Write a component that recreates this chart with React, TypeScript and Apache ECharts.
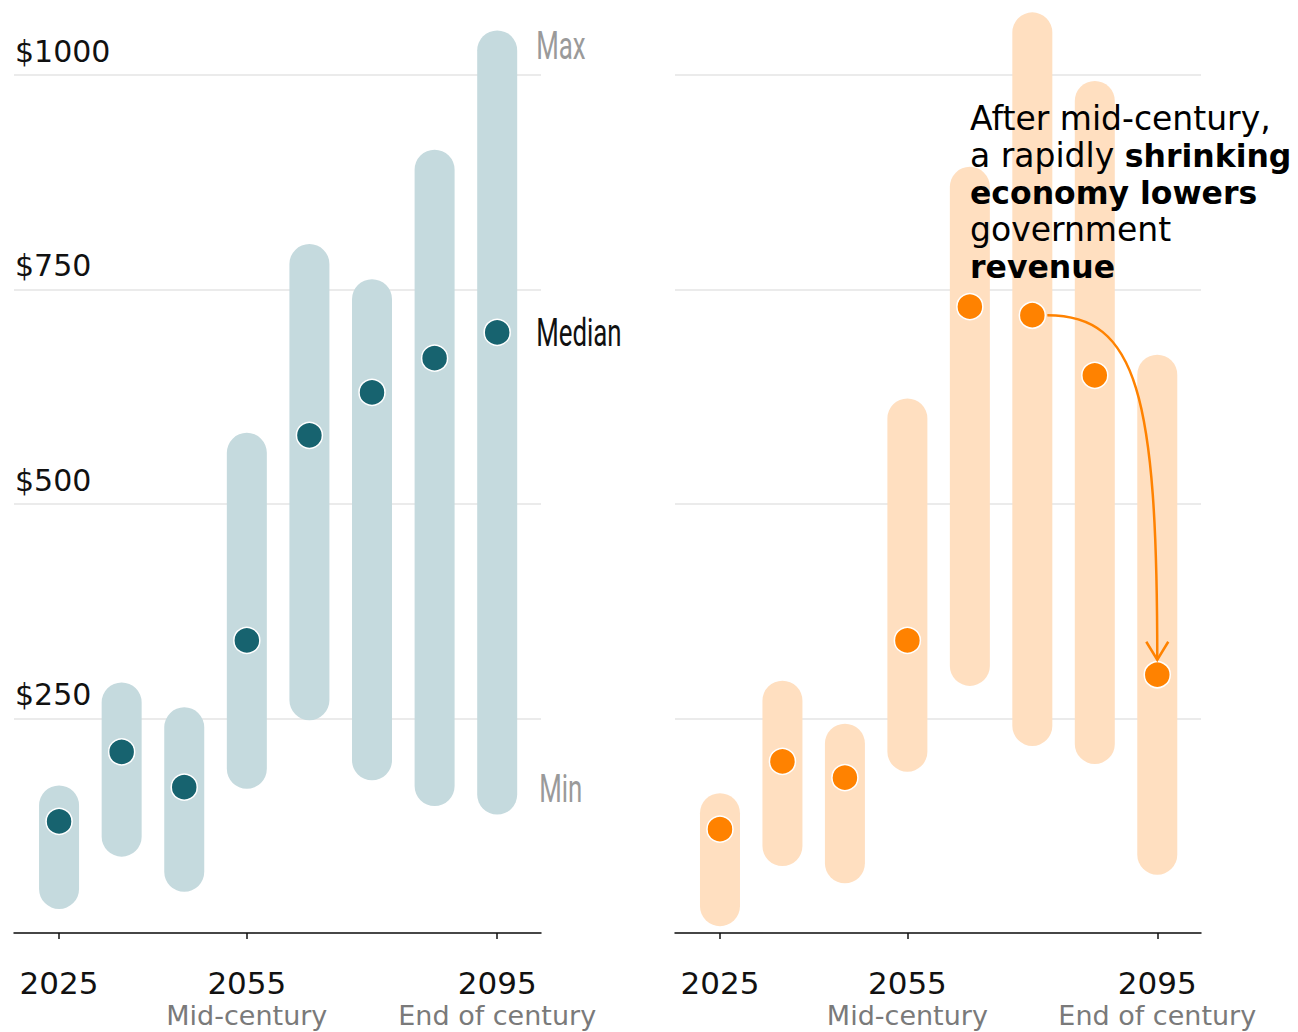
import React, { useEffect, useRef } from "react";
import * as echarts from "echarts";

const years = [2025, 2035, 2045, 2055, 2065, 2075, 2085, 2095];
const tickYears = [2025, 2055, 2095];
const tickNotes: Record<number, string> = { 2055: "Mid-century", 2095: "End of century" };
const yTicks = [0, 250, 500, 750, 1000];

const leftMin = [28, 89, 48, 168, 248, 178, 148, 138];
const leftMax = [172, 292, 263, 583, 803, 762, 913, 1052];
const leftMedian = [130, 211, 170, 341, 580, 630, 670, 700];

const rightMin = [8, 78, 58, 188, 288, 218, 197, 68];
const rightMax = [163, 294, 244, 623, 893, 1073, 993, 674];
const rightMedian = [121, 200, 181, 341, 730, 720, 650, 301];

const FONT = "'DejaVu Sans', sans-serif";
const COND = "Roboto, sans-serif";

const TEAL_BAR = "#c5dade";
const TEAL_DOT = "#17636f";
const ORANGE_BAR = "#ffdfc0";
const ORANGE_DOT = "#ff8200";

function rangeSeries(idx: number, mins: number[], maxs: number[], color: string) {
  return {
    type: "custom",
    xAxisIndex: idx,
    yAxisIndex: idx,
    clip: false,
    data: years.map((y, i) => [y, mins[i], maxs[i]]),
    encode: { x: 0, y: [1, 2] },
    renderItem: (params: any, api: any) => {
      const x = api.value(0);
      const top = api.coord([x, api.value(2)]);
      const bot = api.coord([x, api.value(1)]);
      const w = 40;
      return {
        type: "rect",
        shape: { x: top[0] - w / 2, y: top[1], width: w, height: bot[1] - top[1], r: w / 2 },
        style: { fill: color },
      };
    },
    z: 2,
  };
}

function dotSeries(idx: number, med: number[], color: string) {
  return {
    type: "scatter",
    xAxisIndex: idx,
    yAxisIndex: idx,
    data: years.map((y, i) => [y, med[i]]),
    symbol: "circle",
    symbolSize: 26,
    itemStyle: { color, borderColor: "#ffffff", borderWidth: 1.5, opacity: 1 },
    clip: false,
    z: 3,
  };
}

function xAxis(idx: number) {
  return {
    type: "value",
    gridIndex: idx,
    min: 2017.8,
    max: 2102,
    splitLine: { show: false },
    axisLine: { show: true, onZero: false, lineStyle: { color: "#111", width: 1.5 } },
    axisTick: { show: true, customValues: tickYears, length: 6, lineStyle: { color: "#111", width: 1.5 } },
    axisLabel: {
      show: true,
      customValues: tickYears,
      margin: 32,
      verticalAlign: "top",
      formatter: (v: number) => {
        const note = tickNotes[v];
        return note ? `{y|${v}}\n{s|${note}}` : `{y|${v}}`;
      },
      rich: {
        y: { fontSize: 31, color: "#111", fontFamily: FONT, lineHeight: 36 },
        s: { fontSize: 27, color: "#7a7a7a", fontFamily: FONT, lineHeight: 29 },
      },
    },
  };
}

function yAxis(idx: number, labels: boolean) {
  return {
    type: "value",
    gridIndex: idx,
    min: yTicks[0],
    max: yTicks[yTicks.length - 1],
    interval: 250,
    axisLine: { show: false },
    axisTick: { show: false },
    splitLine: { show: true, lineStyle: { color: "#e4e4e4", width: 1.5 } },
    axisLabel: {
      show: labels,
      inside: true,
      margin: 1,
      align: "left",
      verticalAlign: "bottom",
      padding: [0, 0, 9, 0],
      fontSize: 30,
      color: "#111",
      fontFamily: FONT,
      formatter: (v: number) => (v === 0 ? "" : "$" + v),
    },
  };
}

export default function App() {
  const ref = useRef<HTMLDivElement>(null);
  useEffect(() => {
    if (!ref.current) return;
    const chart = echarts.init(ref.current, null, { renderer: "svg" });
    const option: any = {
      animation: false,
      backgroundColor: "#ffffff",
      grid: [
        { left: 14, width: 527, top: 75, bottom: 99 },
        { left: 675, width: 526, top: 75, bottom: 99 },
      ],
      xAxis: [xAxis(0), xAxis(1)],
      yAxis: [yAxis(0, true), yAxis(1, false)],
      series: [
        rangeSeries(0, leftMin, leftMax, TEAL_BAR),
        dotSeries(0, leftMedian, TEAL_DOT),
        rangeSeries(1, rightMin, rightMax, ORANGE_BAR),
        dotSeries(1, rightMedian, ORANGE_DOT),
      ],
    };
    chart.setOption(option);

    const pMaxL = chart.convertToPixel({ gridIndex: 0 }, [2095, leftMax[7]]) as number[];
    const pMedL = chart.convertToPixel({ gridIndex: 0 }, [2095, leftMedian[7]]) as number[];
    const pMinL = chart.convertToPixel({ gridIndex: 0 }, [2095, leftMin[7]]) as number[];
    const from = chart.convertToPixel({ gridIndex: 1 }, [2075, rightMedian[5]]) as number[];
    const to = chart.convertToPixel({ gridIndex: 1 }, [2095, rightMedian[7]]) as number[];

    const sx = from[0] + 15;
    const sy = from[1];
    const ex = to[0];
    const ey = to[1] - 15;

    chart.setOption({
      graphic: [
        {
          type: "text",
          x: pMaxL[0] + 39,
          y: pMaxL[1] + 16,
          scaleX: 0.68,
          z: 10,
          style: { text: "Max", fontSize: 38, fontFamily: COND, fill: "#9a9a9a", textAlign: "left", textVerticalAlign: "middle" },
        },
        {
          type: "text",
          x: pMedL[0] + 39,
          y: pMedL[1] + 1,
          scaleX: 0.68,
          z: 10,
          style: { text: "Median", fontSize: 38, fontFamily: COND, fill: "#111", textAlign: "left", textVerticalAlign: "middle" },
        },
        {
          type: "text",
          x: pMinL[0] + 42,
          y: pMinL[1] - 25,
          scaleX: 0.68,
          z: 10,
          style: { text: "Min", fontSize: 38, fontFamily: COND, fill: "#9a9a9a", textAlign: "left", textVerticalAlign: "middle" },
        },
        {
          type: "text",
          x: 970,
          y: 100,
          z: 10,
          style: {
            text:
              "{r|After mid-century,}\n{r|a rapidly }{b|shrinking}\n{b|economy lowers}\n{r|government}\n{b|revenue}",
            textAlign: "left",
            textVerticalAlign: "top",
            rich: {
              r: { fontSize: 33, fontFamily: FONT, color: "#111", lineHeight: 37 },
              b: { fontSize: 31.5, fontFamily: FONT, fontWeight: "bold", color: "#111", lineHeight: 37 },
            },
          },
        },
        {
          type: "bezierCurve",
          z: 10,
          shape: { x1: sx, y1: sy, x2: ex, y2: ey, cpx1: sx + 90, cpy1: sy, cpx2: ex, cpy2: sy + 80 },
          style: { stroke: ORANGE_DOT, lineWidth: 2.5, fill: "none" },
        },
        {
          type: "polyline",
          z: 10,
          shape: { points: [[ex - 11, ey - 18], [ex, ey], [ex + 11, ey - 18]] },
          style: { stroke: ORANGE_DOT, lineWidth: 2.5, fill: "none" },
        },
      ],
    });
    return () => chart.dispose();
  }, []);
  return (
    <div
      ref={ref}
      style={{ position: "fixed", left: 0, top: 0, width: 1298, height: 1032, background: "#fff" }}
    />
  );
}
